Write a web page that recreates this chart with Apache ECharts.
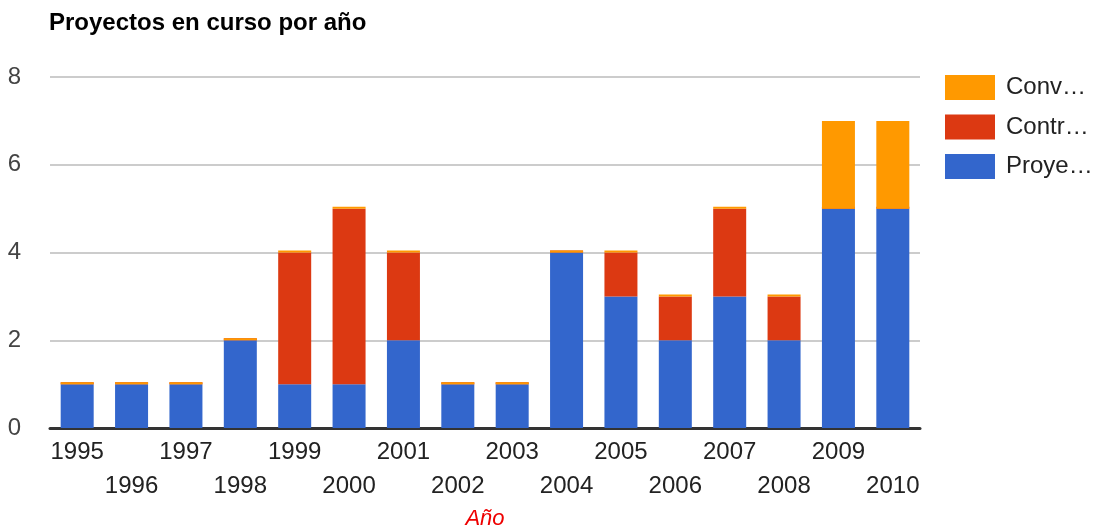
<!DOCTYPE html>
<html>
<head>
<meta charset="utf-8">
<script src="https://cdn.jsdelivr.net/npm/echarts@6/dist/echarts.min.js"></script>
<style>html,body{margin:0;padding:0;background:#fff}#c{width:1096px;height:529px}</style>
</head>
<body>
<div id="c"></div>
<script>
const years = ['1995','1996','1997','1998','1999','2000','2001','2002','2003','2004','2005','2006','2007','2008','2009','2010'];
const proyectos = [1,1,1,2,1,1,2,1,1,4,3,2,3,2,5,5];
const contratos = [0,0,0,0,3,4,2,0,0,0,1,1,2,1,0,0];
const convenios = [0,0,0,0,0,0,0,0,0,0,0,0,0,0,2,2];
const seriesNames = ['Proyectos','Contratos','Convenios'];
const legendLabels = {Convenios:'Conv…', Contratos:'Contr…', Proyectos:'Proye…'};
const colors = ['#3366cc','#dc3912','#ff9900'];
const yTicks = [0,2,4,6,8];

const font = '"Liberation Sans", Arial, sans-serif';
const chart = echarts.init(document.getElementById('c'), null, {renderer:'canvas'});
const mk = (name, data, color) => ({
  name, type:'bar', stack:'total', data, barWidth:33, barMinHeight:2,
  itemStyle:{color}, emphasis:{disabled:true}
});
chart.setOption({
  animation:false,
  textStyle:{fontFamily:font},
  title:{text:'Proyectos en curso por año', left:49, top:11, padding:0,
    textStyle:{fontSize:24, fontWeight:'bold', color:'#000', fontFamily:font}},
  legend:{orient:'vertical', left:945, top:75, padding:0, itemWidth:50, itemHeight:25, itemGap:14.5,
    data:['Convenios','Contratos','Proyectos'], icon:'rect',
    formatter:n=>legendLabels[n],
    textStyle:{fontSize:24, color:'#222', fontFamily:font, padding:[0,0,0,6]}},
  grid:{left:50, right:176, top:77, bottom:101, containLabel:false, outerBoundsMode:'none'},
  xAxis:{type:'category', data:years,
    axisLine:{lineStyle:{color:'#333', width:3}}, axisTick:{show:false},
    axisLabel:{interval:0, hideOverlap:false, fontSize:24, color:'#222', margin:7, lineHeight:34,
      fontFamily:font, formatter:(v,i)=> i%2===0 ? v : '\n'+v},
    name:'Año', nameLocation:'middle', nameGap:77,
    nameTextStyle:{fontSize:22, fontStyle:'italic', color:'#ee0000', fontFamily:font}},
  yAxis:{type:'value', min:yTicks[0], max:yTicks[yTicks.length-1], interval:2,
    axisLine:{show:false}, axisTick:{show:false},
    splitLine:{lineStyle:{color:'#cccccc', width:2}},
    axisLabel:{fontSize:24, color:'#444', margin:29, fontFamily:font}},
  series:[mk(seriesNames[0], proyectos, colors[0]), mk(seriesNames[1], contratos, colors[1]), mk(seriesNames[2], convenios, colors[2])]
});
</script>
</body>
</html>
